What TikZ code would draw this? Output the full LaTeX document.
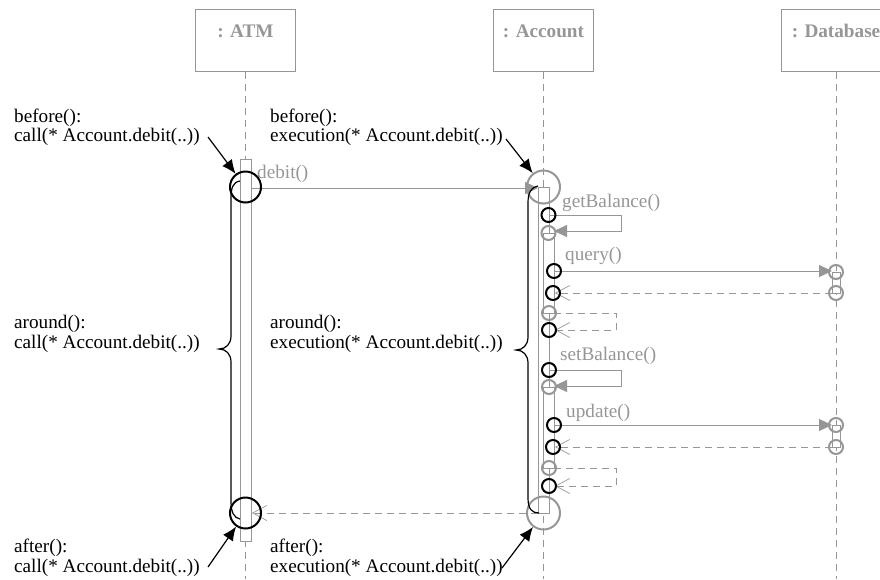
\documentclass[tikz,border=0pt]{standalone}
\usepackage{fontspec}
\setmainfont{Liberation Serif}
\usetikzlibrary{arrows.meta}
\definecolor{umlgray}{RGB}{150,150,150}
\begin{document}
\begin{tikzpicture}[x=1pt,y=-1pt,
  every node/.style={font=\fontsize{19.2}{20}\selectfont},
  lifebox/.style={draw=umlgray, line width=1pt, minimum width=100pt, inner sep=0pt,
    text height=28pt, text depth=34pt, text=umlgray,
    font=\bfseries\fontsize{19.2}{20}\selectfont, anchor=north},
  lifeline/.style={draw=umlgray, line width=1pt, dash pattern=on 7pt off 5pt},
  actbar/.style={draw=umlgray, fill=white, line width=1pt, inner sep=0pt, anchor=north},
  msg/.style={draw=umlgray, line width=1pt, -{Triangle[length=13pt,width=12pt]}},
  ret/.style={draw=umlgray, line width=1pt, dash pattern=on 7pt off 5pt,
    -{Straight Barb[length=14pt,width=15pt,line width=0.7pt]}},
  jpbig/.style={circle, draw=black, line width=2pt, minimum size=31pt, inner sep=0pt},
  jpbiggray/.style={circle, draw=umlgray, line width=2pt, minimum size=33pt, inner sep=0pt},
  jpsmall/.style={circle, draw=black, line width=2pt, minimum size=14pt, inner sep=0pt},
  jpsmallgray/.style={circle, draw=umlgray, line width=2pt, minimum size=14pt, inner sep=0pt},
  advice/.style={draw=black, line width=1.2pt, -{Latex[length=14pt,width=12pt]}},
  brace/.style={draw=black, line width=1.2pt},
  txt/.style={anchor=base west, inner sep=0pt, text=black},
  msglabel/.style={anchor=base west, inner sep=0pt, text=umlgray}]
\useasboundingbox (0,0) rectangle (880,579);

% lifeline heads
\node[lifebox] (atm) at (245.5,9) {: ATM};
\node[lifebox] (acc) at (543.5,9) {: Account};
\node[lifebox, minimum width=110pt] (db) at (836,9) {: Database};

% lifelines
\coordinate (atmfoot) at (245.5,579);
\coordinate (accfoot) at (543.5,579);
\coordinate (dbfoot) at (836,579);
\draw[lifeline] (atm) -- (atmfoot);
\draw[lifeline] (acc) -- (accfoot);
\draw[lifeline] (db) -- (dbfoot);

% activation bars
\node[actbar, minimum width=11pt, minimum height=382pt] (atmbar) at (245.5,159) {};
\node[actbar, minimum width=11pt, minimum height=326pt] (accbar) at (543.5,187) {};
\node[actbar, minimum width=11pt, minimum height=80pt] (nest1) at (548.5,233) {};
\node[actbar, minimum width=11pt, minimum height=81pt] (nest2) at (548.5,387) {};
\node[actbar, minimum width=8pt, minimum height=21pt] (dbbar1) at (836,272) {};
\node[actbar, minimum width=8pt, minimum height=22pt] (dbbar2) at (836,425) {};

% message end points
\coordinate (debout) at (251,188);
\coordinate (debin) at (538,188);
\coordinate (gbout) at (549,215);
\coordinate (gbin) at (554,231);
\coordinate (qout) at (554,271);
\coordinate (qin) at (832,271);
\coordinate (qrout) at (832,293);
\coordinate (qrin) at (555,293);
\coordinate (gbrout) at (554,313);
\coordinate (gbrin) at (555,330);
\coordinate (sbout) at (549,370);
\coordinate (sbin) at (554,386);
\coordinate (uout) at (554,425);
\coordinate (uin) at (832,425);
\coordinate (urout) at (832,447);
\coordinate (urin) at (555,447);
\coordinate (sbrout) at (554,468);
\coordinate (sbrin) at (555,486);
\coordinate (debrout) at (538,513);
\coordinate (debrin) at (252,513);

% messages
\draw[msg] (debout) -- (debin);
\draw[msg] (gbout) -- ++(72,0) |- (gbin);
\draw[msg] (qout) -- (qin);
\draw[ret] (qrout) -- (qrin);
\draw[ret] (gbrout) -- ++(62,0) |- (gbrin);
\draw[msg] (sbout) -- ++(72,0) |- (sbin);
\draw[msg] (uout) -- (uin);
\draw[ret] (urout) -- (urin);
\draw[ret] (sbrout) -- ++(62,0) |- (sbrin);
\draw[ret] (debrout) -- (debrin);

% message labels
\node[msglabel] (ldeb) at (257,178) {debit()};
\node[msglabel] (lgb) at (562,207) {getBalance()};
\node[msglabel] (lq) at (565,260) {query()};
\node[msglabel] (lsb) at (560,360) {setBalance()};
\node[msglabel] (lu) at (566,417) {update()};

% join points
\node[jpbig] (atmcall) at (245.5,187) {};
\node[jpbiggray] (accexec) at (543.5,187) {};
\node[jpbig] (atmret) at (245.5,513) {};
\node[jpbiggray] (accend) at (543.5,513) {};
\node[jpsmall] (gbcall) at (548.5,215) {};
\node[jpsmallgray] (gbexec) at (548.5,233) {};
\node[jpsmall] (qcall) at (554,271) {};
\node[jpsmallgray] (qexec) at (836,272) {};
\node[jpsmallgray] (qend) at (836,293) {};
\node[jpsmall] (qret) at (553,293) {};
\node[jpsmallgray] (gbend) at (549,313) {};
\node[jpsmall] (gbret) at (549,330) {};
\node[jpsmall] (sbcall) at (549,370) {};
\node[jpsmallgray] (sbexec) at (549,387) {};
\node[jpsmall] (ucall) at (554,425) {};
\node[jpsmallgray] (uexec) at (836,425) {};
\node[jpsmallgray] (uend) at (836,447) {};
\node[jpsmall] (uret) at (553,447) {};
\node[jpsmallgray] (sbend) at (549,468) {};
\node[jpsmall] (sbret) at (549,486) {};

% braces spanning the around advice
\draw[brace] (240,181) .. controls (233,182) and (231,188) .. (231,198) -- (231,336)
  .. controls (231,344) and (226,349) .. (219,349)
  .. controls (226,349) and (231,354) .. (231,362) -- (231,502)
  .. controls (231,512) and (234,518) .. (240,519);
\draw[brace] (538,186) .. controls (531,187) and (528,193) .. (528,203) -- (528,337)
  .. controls (528,345) and (523,350) .. (516,350)
  .. controls (523,350) and (528,355) .. (528,363) -- (528,498)
  .. controls (528,509) and (532,513) .. (539,513);

% advice texts
\node[txt] (b1a) at (14,122) {before():};
\node[txt] (b1b) at (14,141) {call(* Account.debit(..))};
\node[txt] (a1a) at (14,328) {around():};
\node[txt] (a1b) at (14,348) {call(* Account.debit(..))};
\node[txt] (f1a) at (14,552) {after():};
\node[txt] (f1b) at (14,572) {call(* Account.debit(..))};
\node[txt] (b2a) at (270,122) {before():};
\node[txt] (b2b) at (270,141) {execution(* Account.debit(..))};
\node[txt] (a2a) at (270,328) {around():};
\node[txt] (a2b) at (270,348) {execution(* Account.debit(..))};
\node[txt] (f2a) at (270,552) {after():};
\node[txt] (f2b) at (270,572) {execution(* Account.debit(..))};

% advice pointers
\coordinate (tb1) at (208,137);
\coordinate (tb2) at (506,139);
\coordinate (tf1) at (208,567);
\coordinate (tf2) at (502,568);
\draw[advice] (tb1) -- (atmcall);
\draw[advice] (tb2) -- (accexec);
\draw[advice] (tf1) -- (atmret);
\draw[advice] (tf2) -- (accend);
\end{tikzpicture}
\end{document}
